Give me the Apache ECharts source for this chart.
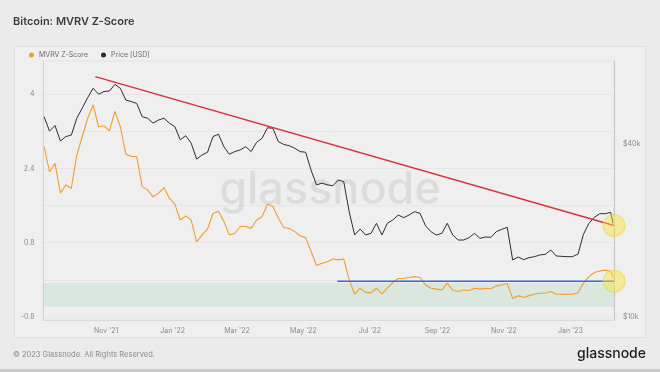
<!DOCTYPE html>
<html><head><meta charset="utf-8">
<script src="https://cdn.jsdelivr.net/npm/echarts@6/dist/echarts.min.js"></script>
<style>html,body{margin:0;padding:0;background:#ebebeb;}#c{width:660px;height:372px;}</style>
</head><body><div id="c"></div>
<script>
const dates = [
'2021-09-05','2021-09-10','2021-09-15','2021-09-20','2021-09-25','2021-09-30','2021-10-05','2021-10-10','2021-10-15','2021-10-20',
'2021-10-25','2021-10-30','2021-11-04','2021-11-09','2021-11-14','2021-11-19','2021-11-24','2021-11-29','2021-12-04','2021-12-09',
'2021-12-14','2021-12-19','2021-12-24','2021-12-29','2022-01-03','2022-01-08','2022-01-13','2022-01-18','2022-01-23','2022-01-28',
'2022-02-02','2022-02-07','2022-02-12','2022-02-17','2022-02-22','2022-02-27','2022-03-04','2022-03-09','2022-03-14','2022-03-19',
'2022-03-24','2022-03-29','2022-04-03','2022-04-08','2022-04-13','2022-04-18','2022-04-23','2022-04-28','2022-05-03','2022-05-08',
'2022-05-13','2022-05-18','2022-05-23','2022-05-28','2022-06-02','2022-06-07','2022-06-12','2022-06-17','2022-06-22','2022-06-27',
'2022-07-02','2022-07-07','2022-07-12','2022-07-17','2022-07-22','2022-07-27','2022-08-01','2022-08-06','2022-08-11','2022-08-16',
'2022-08-21','2022-08-26','2022-08-31','2022-09-05','2022-09-10','2022-09-15','2022-09-20','2022-09-25','2022-09-30','2022-10-05',
'2022-10-10','2022-10-15','2022-10-20','2022-10-25','2022-10-30','2022-11-04','2022-11-09','2022-11-14','2022-11-19','2022-11-24',
'2022-11-29','2022-12-04','2022-12-09','2022-12-14','2022-12-19','2022-12-24','2022-12-29','2023-01-03','2023-01-08','2023-01-13',
'2023-01-18','2023-01-23','2023-01-28','2023-02-02','2023-02-07','2023-02-09'];
const mvrvZ = [
2.87,2.33,2.51,1.87,2.05,1.97,2.69,3.09,3.48,3.77,
3.30,3.32,3.21,3.63,3.30,2.71,2.66,2.66,2.01,1.94,
1.79,1.87,1.99,1.76,1.63,1.29,1.38,1.29,0.82,0.97,
1.10,1.43,1.48,1.26,0.97,1.00,1.15,1.15,1.11,1.29,
1.36,1.63,1.58,1.33,1.13,1.11,1.04,0.95,0.91,0.61,
0.31,0.36,0.39,0.45,0.43,0.45,0.00,-0.31,-0.18,-0.27,
-0.28,-0.18,-0.30,-0.18,-0.06,0.03,0.03,0.05,0.07,0.05,
-0.11,-0.18,-0.20,-0.22,-0.07,-0.22,-0.25,-0.22,-0.23,-0.18,
-0.20,-0.18,-0.19,-0.13,-0.11,-0.08,-0.40,-0.34,-0.38,-0.34,
-0.31,-0.29,-0.29,-0.25,-0.31,-0.31,-0.31,-0.31,-0.28,-0.07,
0.07,0.16,0.19,0.21,0.18,0.07];
const priceUSD = [
49700,44300,46300,40900,42400,42900,49100,53200,57900,62400,
59500,60800,61100,64400,62400,56800,56100,55300,49700,49100,
47200,48400,49100,47200,45900,41300,42700,40200,35400,36600,
37400,42400,43200,39100,36800,37600,38100,39100,37600,40500,
41800,45500,45300,40700,39800,39400,38600,37600,37400,32400,
28800,29200,28800,28600,29950,29550,23200,19280,20230,19280,
19540,21170,19280,21170,21740,22630,22150,22630,23240,22930,
20780,19800,19280,19540,21170,19280,18520,18520,18870,19540,
18770,18970,18920,19800,20170,20500,15790,16170,15830,16080,
16210,16430,16520,17100,16300,16250,16210,16210,16560,19400,
21170,22220,22870,22870,23120,21170];
const trendDates = ['2021-10-22','2023-02-10'];
const trendPrice = [68500, 20800];
const supportDates = ['2022-06-01','2023-02-10'];
const supportZ = [-0.03, -0.03];
const greenBand = [-0.07, -0.58];
const xRange = ['2021-09-04', '2023-02-10'];
const xTickDates = ['2021-11-01','2022-01-01','2022-03-01','2022-05-01','2022-07-01','2022-09-01','2022-11-01','2023-01-01'];
const zTicks = [-0.8, 0, 0.8, 1.6, 2.4, 3.2, 4];
const zLabels = [-0.8, 0.8, 2.4, 4];
const priceTicks = [10000, 40000];
const monthNames = ['Jan','Feb','Mar','Apr','May','Jun','Jul','Aug','Sep','Oct','Nov','Dec'];

const FONT = 'Inter, "Noto Sans", sans-serif';
const chart = echarts.init(document.getElementById('c'), null, {renderer: 'canvas'});
const tp = s => echarts.time.parse(s).getTime();
const circleStyle = {color: 'rgba(247,230,60,0.6)', borderColor: 'rgba(232,208,50,0.8)', borderWidth: 1};

const option = {
  backgroundColor: '#ebebeb',
  animation: false,
  textStyle: {fontFamily: FONT},
  title: {
    text: 'Bitcoin: MVRV Z-Score', left: 13, top: 16, padding: 0,
    textStyle: {fontSize: 11, fontWeight: 600, color: '#3c3c3c', fontFamily: FONT}
  },
  legend: {
    left: 29, top: 51.5, padding: 0, itemGap: 13, itemWidth: 5, itemHeight: 5,
    icon: 'circle', data: ['MVRV Z-Score', 'Price [USD]'],
    textStyle: {fontSize: 7, color: '#6a6a6a', fontFamily: FONT}
  },
  graphic: [
    {type: 'rect', z: -10, shape: {x: 14.5, y: 46.5, width: 631, height: 291}, style: {fill: '#efefef', stroke: '#e0e0e0', lineWidth: 1}},
    {type: 'rect', z: -10, shape: {x: 0, y: 369, width: 660, height: 3}, style: {fill: '#c9c9c9'}},
    {type: 'text', z: 1, x: 330, y: 190, style: {text: 'glassnode', fontSize: 45, fontWeight: 500, fontFamily: FONT, fill: 'rgba(0,0,0,0.08)', align: 'center', verticalAlign: 'middle'}},
    {type: 'text', z: 5, x: 13, y: 355, style: {text: '\u00a9 2023 Glassnode. All Rights Reserved.', fontSize: 7.5, fontFamily: FONT, fill: '#8a8a8a', verticalAlign: 'middle'}},
    {type: 'text', z: 5, x: 646, y: 354, style: {text: 'glassnode', fontSize: 14, fontWeight: 500, fontFamily: FONT, fill: '#1c1c1c', align: 'right', verticalAlign: 'middle'}}
  ],
  grid: {left: 43, right: 46, top: 61, bottom: 52, show: true, borderColor: '#e2e2e2', borderWidth: 1, backgroundColor: 'transparent'},
  xAxis: {
    type: 'value', min: tp(xRange[0]), max: tp(xRange[1]),
    axisLine: {show: true, onZero: false, lineStyle: {color: '#dadada'}},
    axisTick: {show: false},
    splitLine: {show: false},
    axisLabel: {
      customValues: xTickDates.map(tp), fontSize: 7, color: '#8a8a8a', margin: 7, fontFamily: FONT,
      formatter: v => { const d = new Date(v); return monthNames[d.getMonth()] + " '" + String(d.getFullYear()).slice(2); }
    }
  },
  yAxis: [
    {
      type: 'value', min: -0.865, max: 4.717, position: 'left',
      axisLine: {show: true, onZero: false, lineStyle: {color: 'rgba(235,160,120,0.35)'}},
      axisTick: {show: false, customValues: zTicks},
      splitLine: {show: true, lineStyle: {color: '#e6e6e6', width: 1}},
      axisLabel: {customValues: zLabels, fontSize: 7, color: '#8a8a8a', margin: 8.5, fontFamily: FONT, formatter: v => String(v)}
    },
    {
      type: 'log', logBase: 10, min: 9763, max: 77640, position: 'right',
      axisLine: {show: true, onZero: false, lineStyle: {color: '#c4c4c4'}},
      axisTick: {show: false, customValues: priceTicks},
      splitLine: {show: false},
      axisLabel: {customValues: priceTicks, fontSize: 7, color: '#8a8a8a', margin: 9, fontFamily: FONT, formatter: v => '$' + Math.round(v / 1000) + 'k'}
    }
  ],
  series: [
    {
      name: 'Price [USD]', type: 'line', yAxisIndex: 1, showSymbol: false, z: 3,
      data: dates.map((d, i) => [tp(d), priceUSD[i]]),
      color: '#2d2d2d', lineStyle: {color: '#2d2d2d', width: 1}
    },
    {
      name: 'MVRV Z-Score', type: 'line', yAxisIndex: 0, showSymbol: false, z: 4,
      data: dates.map((d, i) => [tp(d), mvrvZ[i]]),
      color: '#f39d2e', lineStyle: {color: '#f39d2e', width: 1.1},
      markArea: {silent: true, itemStyle: {color: 'rgba(140,205,170,0.22)'}, data: [[{yAxis: greenBand[0]}, {yAxis: greenBand[1]}]]}
    },
    {
      name: 'trend', type: 'line', yAxisIndex: 1, showSymbol: false, z: 5,
      data: trendDates.map((d, i) => [tp(d), trendPrice[i]]),
      lineStyle: {color: '#d8313c', width: 1.5}, color: '#d8313c'
    },
    {
      name: 'support', type: 'line', yAxisIndex: 0, showSymbol: false, z: 5,
      data: supportDates.map((d, i) => [tp(d), supportZ[i]]),
      lineStyle: {color: '#2b6fe0', width: 1.5}, color: '#2b6fe0'
    },
    {
      name: 'mark1', type: 'scatter', yAxisIndex: 1, clip: false, z: 6, symbolSize: 22,
      data: [[tp(trendDates[1]), trendPrice[1]]], itemStyle: circleStyle
    },
    {
      name: 'mark2', type: 'scatter', yAxisIndex: 0, clip: false, z: 6, symbolSize: 22,
      data: [[tp(supportDates[1]), supportZ[1]]], itemStyle: circleStyle
    }
  ]
};
chart.setOption(option);
</script></body></html>
